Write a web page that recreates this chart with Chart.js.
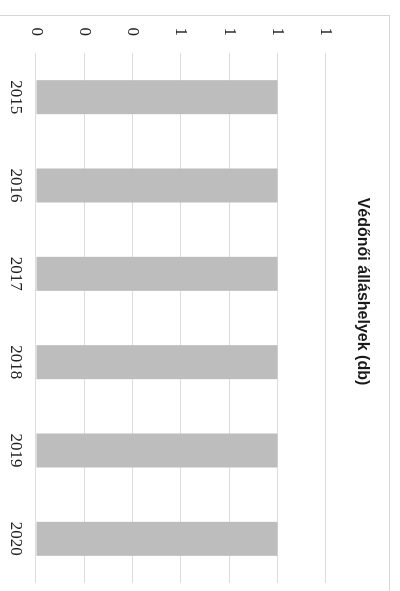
<!DOCTYPE html>
<html>
<head>
<meta charset="utf-8">
<script src="https://cdn.jsdelivr.net/npm/chart.js@4/dist/chart.umd.min.js"></script>
<style>
  html, body { margin: 0; padding: 0; background: #fff; overflow: hidden; }
  #wrap {
    position: absolute; left: 0; top: 0;
    width: 591px; height: 400px;
    transform-origin: 0 0;
    transform: translateX(400px) rotate(90deg);
    background: #fff;
  }
  #frame {
    position: absolute; left: 15px; top: 10px; width: 600px; height: 420px;
    border-left: 1px solid #d6d6d6; border-top: 1px solid #d6d6d6;
    pointer-events: none;
  }
  canvas { position: absolute; left: 0; top: 0; }
</style>
</head>
<body>
<div id="wrap">
  <div id="frame"></div>
  <canvas id="c" width="591" height="400"></canvas>
</div>
<script>
const chartTitle = "Védőnői álláshelyek (db)";
const years = ["2015", "2016", "2017", "2018", "2019", "2020"];
const positions = [1, 1, 1, 1, 1, 1];
const valueTicks = [0, 0.2, 0.4, 0.6, 0.8, 1, 1.2];

new Chart(document.getElementById('c'), {
  type: 'bar',
  data: {
    labels: years,
    datasets: [{
      data: positions,
      backgroundColor: '#bdbdbd',
      borderWidth: 0,
      barPercentage: 0.385,
      categoryPercentage: 1
    }]
  },
  options: {
    responsive: false,
    animation: false,
    layout: { padding: { left: 0, right: 8, top: 10, bottom: 0 } },
    plugins: {
      legend: { display: false },
      tooltip: { enabled: false },
      title: {
        display: true,
        text: chartTitle,
        color: '#1a1a1a',
        font: { family: 'Liberation Sans', size: 16, weight: 'bold' },
        padding: { top: 18, bottom: 27 }
      }
    },
    scales: {
      x: {
        grid: { display: false, drawTicks: false },
        border: { display: false },
        ticks: {
          color: '#222',
          font: { family: 'Liberation Serif', size: 17 },
          padding: 10,
          maxRotation: 0
        },
        afterFit: (s) => { s.height = 36; }
      },
      y: {
        min: 0,
        max: 1.2,
        afterBuildTicks: (s) => { s.ticks = valueTicks.map(v => ({ value: v })); },
        grid: { color: '#dcdcdc', lineWidth: 1, drawTicks: false },
        border: { display: false },
        ticks: {
          color: '#222',
          font: { family: 'Liberation Serif', size: 17 },
          padding: 17,
          callback: (v) => String(Math.round(v))
        },
        afterFit: (s) => { s.width = 53; }
      }
    }
  }
});
</script>
</body>
</html>
